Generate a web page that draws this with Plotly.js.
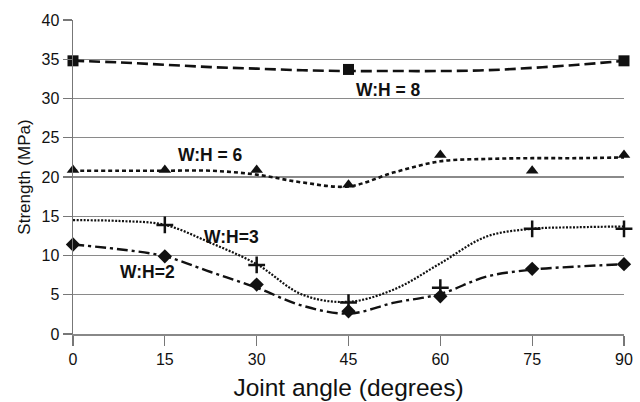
<!DOCTYPE html>
<html>
<head>
<meta charset="utf-8">
<script src="https://cdn.plot.ly/plotly-3.0.1.min.js"></script>
<style>html,body{margin:0;padding:0;background:#fff;}#chart{width:640px;height:402px;}</style>
</head>
<body>
<div id="chart"></div>
<script>
// Measured data points
const angles = [0, 15, 30, 45, 60, 75, 90];
const wh8Angles = [0, 45, 90];
const wh8Points = [34.8, 33.7, 34.8];
const wh6 = [20.9, 20.9, 20.9, 19.0, 22.8, 20.8, 22.8];
const wh3 = [null, 13.9, 8.8, 4.0, 5.9, 13.4, 13.4];
const wh2 = [11.4, 9.9, 6.3, 2.9, 4.8, 8.3, 8.9];

// Trend curves
const curveAngles = [0, 7.5, 15, 22.5, 30, 37.5, 45, 52.5, 60, 67.5, 75, 82.5, 90];
const curve8 = [34.8, 34.6, 34.3, 34.0, 33.8, 33.6, 33.5, 33.5, 33.5, 33.6, 33.9, 34.3, 34.8];
const curve6 = [20.8, 20.8, 20.8, 20.8, 20.3, 19.3, 18.8, 20.6, 22.0, 22.3, 22.4, 22.4, 22.5];
const curve3 = [14.5, 14.4, 13.9, 11.6, 8.9, 5.0, 4.1, 5.7, 9.0, 12.4, 13.4, 13.6, 13.7];
const curve2 = [11.4, 10.8, 9.9, 7.9, 5.9, 3.6, 2.6, 4.0, 5.1, 7.3, 8.2, 8.6, 8.9];

const seriesLabels = ['W:H = 8', 'W:H = 6', 'W:H=3', 'W:H=2'];
const labelAngles = [51.5, 22.4, 25.9, 12.1];
const labelValues = [31.1, 22.8, 12.4, 7.9];

const xTicks = [0, 15, 30, 45, 60, 75, 90];
const yTicks = [0, 5, 10, 15, 20, 25, 30, 35, 40];

const blk = '#111';
const lineTrace = (y, dash, w) => ({
  x: curveAngles, y: y, type: 'scatter', mode: 'lines',
  line: {color: blk, width: w, dash: dash, shape: 'spline', smoothing: 1},
  hoverinfo: 'skip', cliponaxis: false
});
const markTrace = (x, y, sym, size, lw) => ({
  x: x, y: y, type: 'scatter', mode: 'markers',
  marker: {symbol: sym, size: size, color: blk, line: {color: blk, width: lw}},
  cliponaxis: false
});

const data = [
  lineTrace(curve8, '11px,5px', 2.6),
  lineTrace(curve6, '4px,3px', 2.6),
  lineTrace(curve3, '2px,1.5px', 2.2),
  lineTrace(curve2, '11px,4px,3px,4px', 2.4),
  markTrace(wh8Angles, wh8Points, 'square', 11, 0),
  markTrace(angles, wh6, 'triangle-up', 11, 0),
  markTrace(angles, wh3, 'cross-thin', 12, 2.5),
  markTrace(angles, wh2, 'diamond', 11, 0)
];

const annotations = seriesLabels.map((t, i) => ({
  x: labelAngles[i], y: labelValues[i], xref: 'x', yref: 'y', text: '<b>' + t + '</b>',
  showarrow: false, font: {family: 'Liberation Sans, Arial', size: 17.5, color: blk}
}));

const layout = {
  width: 640, height: 402,
  margin: {l: 73, r: 16, t: 20, b: 68},
  paper_bgcolor: '#fff', plot_bgcolor: '#fff',
  showlegend: false,
  font: {family: 'Liberation Sans, Arial', color: '#111'},
  xaxis: {
    range: [0, 90], tickvals: xTicks, ticktext: xTicks.map(String),
    showgrid: false, zeroline: false, showline: true, linecolor: '#888', linewidth: 1.5,
    ticks: 'outside', ticklen: 10, tickcolor: '#777', tickwidth: 1.2,
    tickfont: {size: 16, color: '#111'},
    title: {text: 'Joint angle (degrees)', font: {size: 24.5, color: '#111'}, standoff: 12}
  },
  yaxis: {
    range: [0, 40], tickvals: yTicks, ticktext: yTicks.map(String),
    showgrid: true, gridcolor: '#8a8a8a', gridwidth: 1.2, zeroline: false,
    showline: true, linecolor: '#777', linewidth: 1.5,
    ticks: 'outside', ticklen: 9, tickcolor: '#777', tickwidth: 1.2,
    tickfont: {size: 16, color: '#111'},
    title: {text: 'Strength (MPa)', font: {size: 17, color: '#111'}, standoff: 6}
  },
  annotations: annotations
};

Plotly.newPlot('chart', data, layout, {staticPlot: true, displayModeBar: false});
</script>
</body>
</html>
